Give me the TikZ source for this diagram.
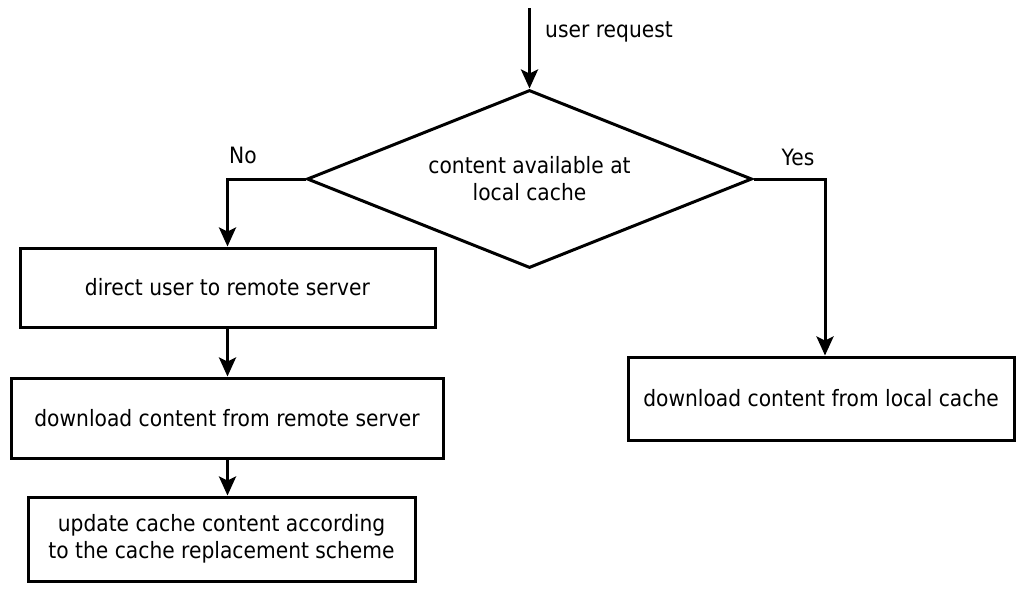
\documentclass[tikz,border=0pt]{standalone}
\usepackage{fontspec}
\setmainfont{DejaVu Sans}[FakeStretch=0.9]
\usetikzlibrary{shapes.geometric,arrows.meta}

\begin{document}
\begin{tikzpicture}[
    x={(1pt,0)}, y={(0,-1pt)},
    every node/.style={font=\fontsize{22.5}{27}\selectfont, text=black},
    flow/.style={line width=3pt, draw=black},
    arr/.style={flow, -{Stealth[length=19pt,width=17pt,inset=4pt]}},
    procbox/.style={draw=black, line width=3pt, rectangle, inner sep=0pt, align=center},
    decision/.style={draw=black, line width=3pt, diamond, inner sep=0pt, aspect=2.5,
                     minimum width=445pt, minimum height=178pt, align=center},
    lbl/.style={inner sep=0pt}
]
\useasboundingbox (0,0) rectangle (1016,595);

% decision and process boxes
\node[decision] (dec) at (529.5,179) {content available at\\local cache};
\node[procbox, minimum width=415pt, minimum height=79pt] (remote) at (227.5,287.5)
    {direct user to remote server};
\node[procbox, minimum width=432pt, minimum height=80pt] (dlremote) at (227,418)
    {download content from remote server};
\node[procbox, minimum width=387pt, minimum height=84pt] (update) at (221.5,539)
    {update cache content according\\to the cache replacement scheme};
\node[procbox, minimum width=386pt, minimum height=83pt] (dllocal) at (821,398.5)
    {download content from local cache};

% incoming request
\coordinate (req) at (529.5,8);
\draw[arr] (req) -- (dec.north);
\node[lbl, anchor=west] (reqlbl) at (545,32) {user request};

% branches
\draw[arr] (dec.west) -| (remote.north);
\node[lbl] (nolbl) at (243,155) {No};
\draw[arr] (dec.east) -| ([xshift=4pt]dllocal.north);
\node[lbl] (yeslbl) at (798,157) {Yes};

% remote path
\draw[arr] (remote.south) -- (dlremote.north -| remote.south);
\draw[arr] (dlremote.south -| remote.south) -- (update.north -| remote.south);
\end{tikzpicture}
\end{document}
